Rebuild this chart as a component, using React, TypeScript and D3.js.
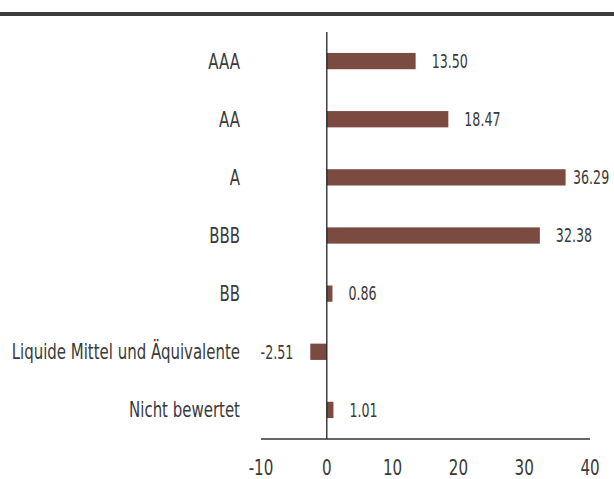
import * as d3 from "d3";

const categories = ["AAA", "AA", "A", "BBB", "BB", "Liquide Mittel und Äquivalente", "Nicht bewertet"];
const values = [13.5, 18.47, 36.29, 32.38, 0.86, -2.51, 1.01];
const ticks = [-10, 0, 10, 20, 30, 40];

const W = 614;
const H = 479;
const barColor = "#7b4a41";
const textColor = "#3a3a3a";
// no narrow font installed, so squeeze the condensed one a bit more
const font = "'DejaVu Sans Condensed', 'DejaVu Sans', sans-serif";

const at = (px: number, py: number, s = 0.8) => `translate(${px},${py}) scale(${s},1)`;

export default function App() {
  const x = d3.scaleLinear().domain([-10, 40]).range([261, 590]);
  const y = d3.scaleBand<string>().domain(categories).range([32, 439]).paddingInner(0.72).paddingOuter(0.36);
  const bh = y.bandwidth();

  return (
    <svg width={W} height={H} style={{ position: "absolute", left: 0, top: 0, background: "#fff" }} fontFamily={font}>
      {/* top band */}
      <rect x={0} y={12} width={W} height={4} fill="#3c3c3c" />

      {/* bars */}
      {values.map((v, i) => {
        const c = categories[i];
        const x0 = x(Math.min(0, v));
        const x1 = x(Math.max(0, v));
        const cy = (y(c) as number) + bh / 2;
        // keep the label inside the frame when the bar is long
        const lx = v >= 0 ? Math.min(x1 + 16, W - 41) : x0 - 17;
        return (
          <g key={c}>
            <rect x={x0} y={y(c)} width={x1 - x0} height={bh} fill={barColor} />
            <text
              transform={at(lx, cy, 0.74)}
              dy="0.36em"
              textAnchor={v >= 0 ? "start" : "end"}
              fontSize={19}
              fill={textColor}
            >
              {v.toFixed(2)}
            </text>
            <text transform={at(240, cy)} dy="0.36em" textAnchor="end" fontSize={20.8} fill={textColor}>
              {c}
            </text>
          </g>
        );
      })}

      {/* axes */}
      <line x1={x(0)} x2={x(0)} y1={32} y2={439} stroke="#222" strokeWidth={1.3} />
      <line x1={x(-10)} x2={x(40)} y1={439} y2={439} stroke="#333" strokeWidth={1.3} />
      {ticks.map((t) => (
        <text key={t} transform={at(x(t), 475)} textAnchor="middle" fontSize={21} fill={textColor}>
          {t}
        </text>
      ))}
    </svg>
  );
}
